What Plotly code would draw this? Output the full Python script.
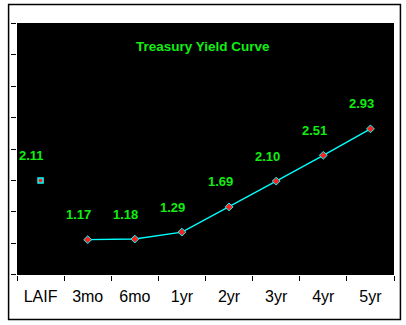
import plotly.graph_objects as go

categories = ["LAIF", "3mo", "6mo", "1yr", "2yr", "3yr", "4yr", "5yr"]
laif_cat = ["LAIF"]
laif_val = [2.11]
curve_cats = ["3mo", "6mo", "1yr", "2yr", "3yr", "4yr", "5yr"]
curve_vals = [1.17, 1.18, 1.29, 1.69, 2.10, 2.51, 2.93]
title_text = "Treasury Yield Curve"

W, H = 406, 325
ML, MR, MT, MB = 13, 12, 23, 50
pw, ph = W - ML - MR, H - MT - MB

def px_to_paper_x(px):
    return (px - ML) / pw

def px_to_paper_y(py):
    return (H - MB - py) / ph

fig = go.Figure()
fig.add_trace(go.Scatter(
    x=curve_cats, y=curve_vals, mode="lines+markers",
    line=dict(color="#00FFFF", width=1.4),
    marker=dict(symbol="diamond", size=6, color="#FF2020",
                line=dict(color="#00FFFF", width=1)),
    showlegend=False, hoverinfo="skip"))
fig.add_trace(go.Scatter(
    x=laif_cat, y=laif_val, mode="markers",
    marker=dict(symbol="square", size=5, color="#FF2020",
                line=dict(color="#00FFFF", width=1.5)),
    showlegend=False, hoverinfo="skip"))

label_font = dict(family="Liberation Sans, Arial, sans-serif", size=13, color="#11EE11")
for c, v in zip(laif_cat + curve_cats, laif_val + curve_vals):
    fig.add_annotation(x=c, y=v, text=f"<b>{v:.2f}</b>", showarrow=False,
                       xanchor="center", yanchor="middle",
                       xshift=-9, yshift=25, font=label_font)

fig.add_annotation(x=px_to_paper_x(200.5), y=px_to_paper_y(46.7),
                   xref="paper", yref="paper", text=f"<b>{title_text}</b>",
                   showarrow=False, xanchor="center", yanchor="middle",
                   font=dict(family="Liberation Sans, Arial, sans-serif", size=13.5, color="#11EE11"))

fig.add_shape(type="rect", xref="paper", yref="paper",
              x0=px_to_paper_x(4.5), x1=px_to_paper_x(400.5),
              y0=px_to_paper_y(319.5), y1=px_to_paper_y(4.5),
              line=dict(color="black", width=1.5), layer="below")

fig.update_layout(
    width=W, height=H,
    margin=dict(l=ML, r=MR, t=MT, b=MB),
    paper_bgcolor="white", plot_bgcolor="black",
    xaxis=dict(type="category", categoryorder="array", categoryarray=categories,
               range=[-0.5, 7.5], tickson="boundaries", ticks="outside",
               ticklen=5, tickcolor="black", tickwidth=1, showgrid=False,
               zeroline=False, showline=False, ticklabelstandoff=10,
               tickfont=dict(family="Liberation Sans, Arial, sans-serif", size=16, color="black")),
    yaxis=dict(range=[0.609, 4.611], tickmode="linear", tick0=0.61, dtick=0.5,
               ticks="outside", ticklen=5, tickcolor="black", tickwidth=1,
               showticklabels=False, showgrid=False, zeroline=False, showline=False),
)

fig.write_html("out.html")
